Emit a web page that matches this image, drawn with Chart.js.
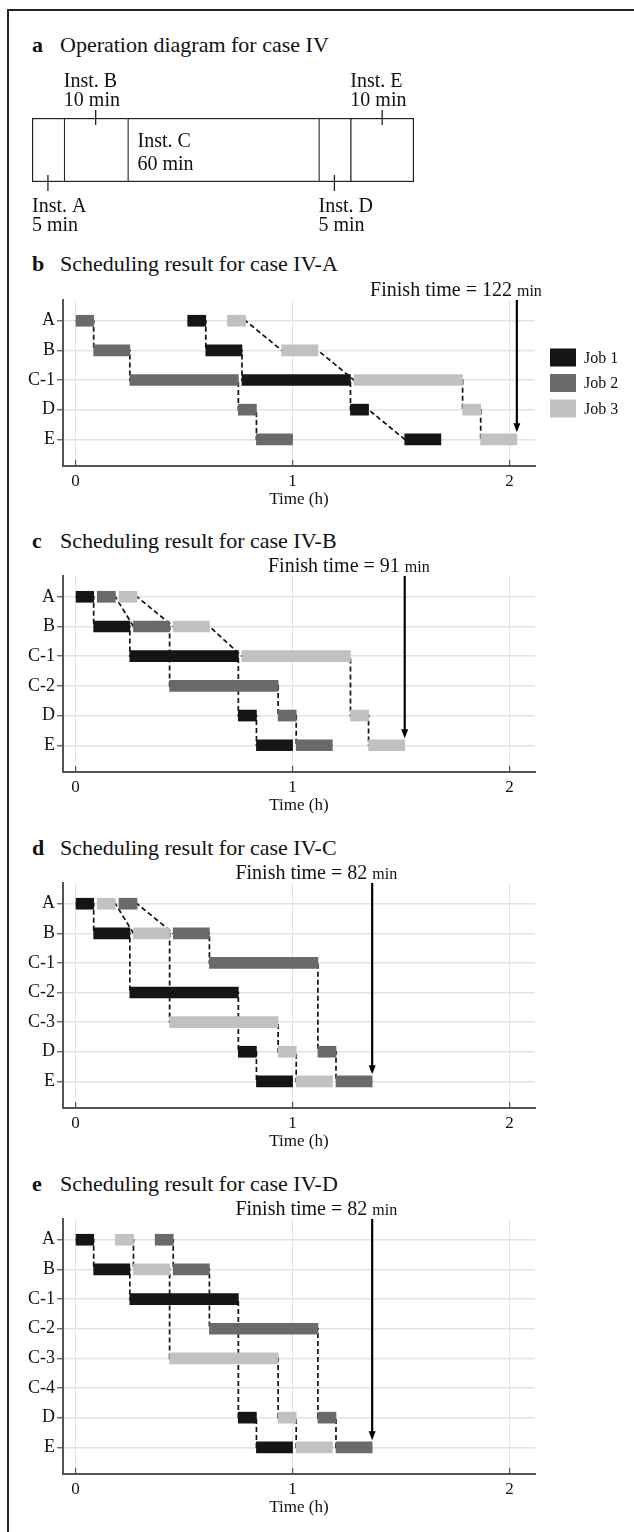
<!DOCTYPE html>
<html>
<head>
<meta charset="utf-8">
<script src="https://cdn.jsdelivr.net/npm/chart.js@4.4.0/dist/chart.umd.min.js"></script>
<style>
html, body { margin: 0; padding: 0; background: #fff; }
body { width: 634px; height: 1532px; position: relative; overflow: hidden;
       font-family: "Liberation Serif", "Times New Roman", serif; color: #111; }
#moldura { position: absolute; left: 7px; top: 9px; width: 700px; height: 1600px; border: 2px solid #222; }
.titulo { position: absolute; left: 32px; height: 22px; font-size: 22px; line-height: 22px; white-space: nowrap; }
.titulo b { position: absolute; left: 0; }
.titulo span { position: absolute; left: 28px; }
canvas { position: absolute; left: 0; }
</style>
</head>
<body>
<div id="moldura"></div>

<div class="titulo" style="top:34px"><b>a</b><span>Operation diagram for case IV</span></div>
<canvas id="chartDiagrama" width="634" height="180" style="top:60px"></canvas>

<div class="titulo" style="top:253px"><b>b</b><span>Scheduling result for case IV-A</span></div>
<canvas id="chartCasoA"></canvas>

<div class="titulo" style="top:530px"><b>c</b><span>Scheduling result for case IV-B</span></div>
<canvas id="chartCasoB"></canvas>

<div class="titulo" style="top:837px"><b>d</b><span>Scheduling result for case IV-C</span></div>
<canvas id="chartCasoC"></canvas>

<div class="titulo" style="top:1173px"><b>e</b><span>Scheduling result for case IV-D</span></div>
<canvas id="chartCasoD"></canvas>

<script>
// Diagrama de operação (painel a)
const instNames = ['Inst. A', 'Inst. B', 'Inst. C', 'Inst. D', 'Inst. E'];
const instTimes = ['5 min', '10 min', '60 min', '5 min', '10 min'];
const instSpan = [5, 10, 30, 5, 10];

const jobNames = ['Job 1', 'Job 2', 'Job 3'];

// Caso IV-A (painel b) - tempos em min
const caseA_rows = ['A', 'B', 'C-1', 'D', 'E'];
const caseA_lanes = [['A', 'B', 'C-1', 'D', 'E'], ['A', 'B', 'C-1', 'D', 'E'], ['A', 'B', 'C-1', 'D', 'E']];
const caseA_start = [[31, 36, 46, 76, 91], [0, 5, 15, 45, 50], [42, 57, 77, 107, 112]];
const caseA_end = [[36, 46, 76, 81, 101], [5, 15, 45, 50, 60], [47, 67, 107, 112, 122]];
const caseA_finish = 122;

// Caso IV-B (painel c)
const caseB_rows = ['A', 'B', 'C-1', 'C-2', 'D', 'E'];
const caseB_lanes = [['A', 'B', 'C-1', 'D', 'E'], ['A', 'B', 'C-2', 'D', 'E'], ['A', 'B', 'C-1', 'D', 'E']];
const caseB_start = [[0, 5, 15, 45, 50], [6, 16, 26, 56, 61], [12, 27, 46, 76, 81]];
const caseB_end = [[5, 15, 45, 50, 60], [11, 26, 56, 61, 71], [17, 37, 76, 81, 91]];
const caseB_finish = 91;

// Caso IV-C (painel d)
const caseC_rows = ['A', 'B', 'C-1', 'C-2', 'C-3', 'D', 'E'];
const caseC_lanes = [['A', 'B', 'C-2', 'D', 'E'], ['A', 'B', 'C-1', 'D', 'E'], ['A', 'B', 'C-3', 'D', 'E']];
const caseC_start = [[0, 5, 15, 45, 50], [12, 27, 37, 67, 72], [6, 16, 26, 56, 61]];
const caseC_end = [[5, 15, 45, 50, 60], [17, 37, 67, 72, 82], [11, 26, 56, 61, 71]];
const caseC_finish = 82;

// Caso IV-D (painel e)
const caseD_rows = ['A', 'B', 'C-1', 'C-2', 'C-3', 'C-4', 'D', 'E'];
const caseD_lanes = [['A', 'B', 'C-1', 'D', 'E'], ['A', 'B', 'C-2', 'D', 'E'], ['A', 'B', 'C-3', 'D', 'E']];
const caseD_start = [[0, 5, 15, 45, 50], [22, 27, 37, 67, 72], [11, 16, 26, 56, 61]];
const caseD_end = [[5, 15, 45, 50, 60], [27, 37, 67, 72, 82], [16, 26, 56, 61, 71]];
const caseD_finish = 82;

const timeTicks = [0, 1, 2];

const cores = {
    job: ['#151515', '#6a6a6a', '#c1c1c1'],
    eixo: '#555',
    grade: '#e3e3e3',
    texto: '#111'
};
const fonte = '"Liberation Serif", "Times New Roman", serif';

// rótulos e marcas do diagrama
const rotulosInst = {
    id: 'rotulosInst',
    afterDatasetsDraw(chart) {
        const ctx = chart.ctx;
        const lados = ['below', 'above', 'inside', 'below', 'above'];
        ctx.save();
        ctx.fillStyle = cores.texto;
        ctx.strokeStyle = '#222';
        ctx.lineWidth = 1.3;
        ctx.font = '20px ' + fonte;
        ctx.textAlign = 'left';
        ctx.textBaseline = 'alphabetic';
        instNames.forEach((nome, i) => {
            const el = chart.getDatasetMeta(i).data[0];
            const esq = Math.min(el.x, el.base);
            const dir = Math.max(el.x, el.base);
            const meio = (esq + dir) / 2;
            const topo = el.y - el.height / 2;
            const base = el.y + el.height / 2;
            if (lados[i] === 'above') {
                ctx.beginPath(); ctx.moveTo(meio, topo - 8); ctx.lineTo(meio, topo + 7); ctx.stroke();
                ctx.fillText(nome, esq, topo - 31.5);
                ctx.fillText(instTimes[i], esq, topo - 12.5);
            } else if (lados[i] === 'below') {
                ctx.beginPath(); ctx.moveTo(meio, base - 7); ctx.lineTo(meio, base + 9); ctx.stroke();
                ctx.fillText(nome, esq, base + 29.5);
                ctx.fillText(instTimes[i], esq, base + 48.5);
            } else {
                ctx.fillText(nome, esq + 10, topo + 28.5);
                ctx.fillText(instTimes[i], esq + 10, topo + 52);
            }
        });
        ctx.restore();
    }
};

function criarDiagrama() {
    const canvas = document.getElementById('chartDiagrama');
    if (!canvas) return;
    try {
        new Chart(canvas, {
            type: 'bar',
            data: {
                labels: ['IV'],
                datasets: instNames.map((nome, i) => ({
                    label: nome,
                    data: [instSpan[i]],
                    backgroundColor: '#fff',
                    borderColor: '#222',
                    borderWidth: { left: 1.5, top: 1.5, bottom: 1.5, right: i === instNames.length - 1 ? 1.5 : 0 },
                    borderSkipped: false,
                    barPercentage: 1,
                    categoryPercentage: 1
                }))
            },
            options: {
                indexAxis: 'y',
                responsive: false,
                animation: false,
                events: [],
                layout: { padding: { left: 32, right: 220, top: 58, bottom: 58 } },
                scales: {
                    x: { stacked: true, display: false, min: 0, max: 60 },
                    y: { stacked: true, display: false }
                },
                plugins: { legend: { display: false }, tooltip: { enabled: false } }
            },
            plugins: [rotulosInst]
        });
    } catch (error) {
        console.error('Erro no diagrama:', error);
    }
}

// seta do tempo final, marcas do eixo x e legenda
const marcasGantt = {
    id: 'marcasGantt',
    afterDraw(chart, args, opts) {
        const { ctx, chartArea } = chart;
        const x = chart.scales.x;
        const y = chart.scales.y;
        ctx.save();

        ctx.strokeStyle = cores.eixo;
        ctx.lineWidth = 1.2;
        x.ticks.forEach(t => {
            const px = x.getPixelForValue(t.value);
            ctx.beginPath(); ctx.moveTo(px, chartArea.bottom); ctx.lineTo(px, chartArea.bottom - 6); ctx.stroke();
        });

        const fx = x.getPixelForValue(opts.finish / 60);
        const ponta = y.getPixelForValue(opts.lastRow) - 7;
        ctx.strokeStyle = '#000';
        ctx.lineWidth = 2.2;
        ctx.beginPath(); ctx.moveTo(fx, chartArea.top); ctx.lineTo(fx, ponta - 6); ctx.stroke();
        ctx.fillStyle = '#000';
        ctx.beginPath(); ctx.moveTo(fx - 3.5, ponta - 9); ctx.lineTo(fx + 3.5, ponta - 9); ctx.lineTo(fx, ponta); ctx.closePath(); ctx.fill();

        const grande = 'Finish time = ' + opts.finish + ' ';
        ctx.font = '20px ' + fonte;
        const wGrande = ctx.measureText(grande).width;
        ctx.font = '16px ' + fonte;
        const wMin = ctx.measureText('min').width;
        const x0 = fx + 25 - wGrande - wMin;
        ctx.fillStyle = cores.texto;
        ctx.textAlign = 'left';
        ctx.textBaseline = 'alphabetic';
        ctx.font = '20px ' + fonte;
        ctx.fillText(grande, x0, chartArea.top - 4);
        ctx.font = '16px ' + fonte;
        ctx.fillText('min', x0 + wGrande, chartArea.top - 4);

        if (opts.legend) {
            ctx.font = '16px ' + fonte;
            ctx.textBaseline = 'middle';
            jobNames.forEach((nome, j) => {
                const cy = chartArea.top + 57.5 + j * 25.5;
                ctx.fillStyle = cores.job[j];
                ctx.fillRect(chartArea.right + 15, cy - 9, 26, 18);
                ctx.fillStyle = cores.texto;
                ctx.fillText(nome, chartArea.right + 49, cy + 1);
            });
        }
        ctx.restore();
    }
};

function criarGantt(id, topoPlot, basePlot, rows, lanes, starts, ends, finish, comLegenda) {
    const canvas = document.getElementById(id);
    if (!canvas) return;
    const padTopo = 30, alturaX = 45;
    canvas.width = 634;
    canvas.height = Math.round(basePlot - topoPlot) + padTopo + alturaX;
    canvas.style.top = (topoPlot - padTopo) + 'px';

    const datasets = [];
    jobNames.forEach((nome, j) => {
        datasets.push({
            type: 'bar',
            label: nome,
            indexAxis: 'y',
            grouped: false,
            data: lanes[j].map((r, k) => ({ y: rows.indexOf(r), x: [starts[j][k] / 60, ends[j][k] / 60] })),
            backgroundColor: cores.job[j],
            borderWidth: 0,
            barThickness: 11,
            order: 1
        });
        const caminho = [];
        lanes[j].forEach((r, k) => {
            caminho.push({ x: starts[j][k] / 60, y: rows.indexOf(r) });
            caminho.push({ x: ends[j][k] / 60, y: rows.indexOf(r) });
        });
        datasets.push({
            type: 'line',
            label: nome + ' link',
            indexAxis: 'x',
            data: caminho,
            borderColor: '#111',
            borderWidth: 1.7,
            borderDash: [5, 3],
            pointRadius: 0,
            fill: false,
            tension: 0,
            order: 2
        });
    });

    try {
        new Chart(canvas, {
            type: 'bar',
            data: { datasets },
            options: {
                responsive: false,
                animation: false,
                events: [],
                layout: { padding: { left: 0, right: 99, top: padTopo, bottom: 0 } },
                scales: {
                    x: {
                        type: 'linear',
                        offset: false,
                        min: -0.058,
                        max: 2.117,
                        afterBuildTicks: s => { s.ticks = timeTicks.map(v => ({ value: v })); },
                        afterFit: s => { s.height = alturaX; },
                        grid: { offset: false, color: cores.grade, lineWidth: 1, drawTicks: false },
                        border: { display: true, color: cores.eixo, width: 2 },
                        ticks: { color: cores.texto, font: { family: fonte, size: 17 }, padding: 5, autoSkip: false, maxRotation: 0 },
                        title: { display: true, text: 'Time (h)', color: cores.texto, font: { family: fonte, size: 17 }, padding: { top: 0, bottom: 1 } }
                    },
                    y: {
                        type: 'linear',
                        offset: false,
                        reverse: true,
                        min: -0.7,
                        max: rows.length - 0.1,
                        afterBuildTicks: s => { s.ticks = rows.map((r, i) => ({ value: i })); },
                        afterFit: s => { s.width = 63; },
                        grid: { offset: false, color: cores.grade, lineWidth: 1.5, drawTicks: true, tickLength: 6, tickColor: cores.eixo, tickWidth: 1.2 },
                        border: { display: true, color: cores.eixo, width: 2 },
                        ticks: {
                            color: cores.texto,
                            font: { family: fonte, size: 18 },
                            padding: 2,
                            autoSkip: false,
                            callback: v => rows[v] !== undefined ? rows[v] : ''
                        }
                    }
                },
                plugins: {
                    legend: { display: false },
                    tooltip: { enabled: false },
                    marcasGantt: { finish: finish, lastRow: rows.length - 1, legend: comLegenda }
                }
            },
            plugins: [marcasGantt]
        });
    } catch (error) {
        console.error('Erro no gráfico ' + id + ':', error);
    }
}

criarDiagrama();
criarGantt('chartCasoA', 300, 466, caseA_rows, caseA_lanes, caseA_start, caseA_end, caseA_finish, true);
criarGantt('chartCasoB', 576, 772, caseB_rows, caseB_lanes, caseB_start, caseB_end, caseB_finish, false);
criarGantt('chartCasoC', 883, 1108, caseC_rows, caseC_lanes, caseC_start, caseC_end, caseC_finish, false);
criarGantt('chartCasoD', 1219, 1474, caseD_rows, caseD_lanes, caseD_start, caseD_end, caseD_finish, false);
</script>
</body>
</html>
